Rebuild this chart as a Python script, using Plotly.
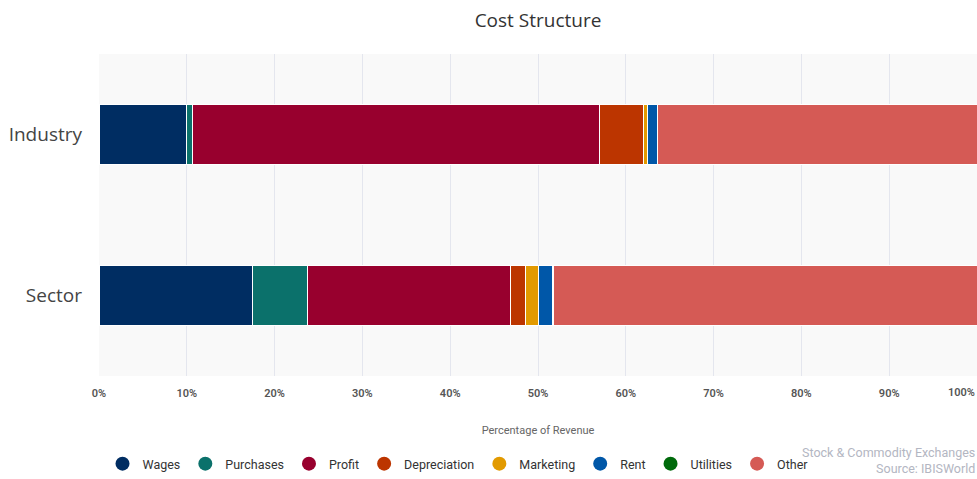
import plotly.graph_objects as go

categories = ["Industry", "Sector"]
series_names = ["Wages", "Purchases", "Profit", "Depreciation", "Marketing", "Rent", "Utilities", "Other"]
wages = [10.0, 17.5]
purchases = [0.7, 6.2]
profit = [46.3, 23.2]
depreciation = [5.0, 1.7]
marketing = [0.5, 1.5]
rent = [1.1, 1.6]
utilities = [0.05, 0.1]
other = [36.35, 48.2]
tick_vals = [0, 10, 20, 30, 40, 50, 60, 70, 80, 90, 100]
tick_text = ["0%", "10%", "20%", "30%", "40%", "50%", "60%", "70%", "80%", "90%", "100%"]

colors = ["#002D62", "#0B716B", "#98002E", "#BC3500", "#E29A00", "#0057A8", "#006A0B", "#D55A55"]
values = [wages, purchases, profit, depreciation, marketing, rent, utilities, other]

fig = go.Figure()
for name, vals, col in zip(series_names, values, colors):
    fig.add_trace(go.Bar(
        name=name, y=categories, x=vals, orientation="h", showlegend=False, legendgroup=name,
        marker=dict(color=col, line=dict(color="white", width=1)),
    ))
# circular legend entries
for name, col in zip(series_names, colors):
    fig.add_trace(go.Scatter(
        name=name, x=[None], y=[None], mode="markers", legendgroup=name, showlegend=True,
        marker=dict(color=col, size=14, symbol="circle"),
    ))

fig.update_layout(
    width=977, height=479,
    barmode="stack", bargap=0.63,
    margin=dict(l=99, r=0, t=54, b=102),
    paper_bgcolor="white", plot_bgcolor="#f9f9f9",
    title=dict(text="Cost Structure", x=0.5, xref="paper", xanchor="center", y=0.958, yanchor="middle",
               font=dict(family="Open Sans", size=19, color="#333333")),
    legend=dict(orientation="h", x=0.004, xanchor="left", y=-0.272, yanchor="middle",
                font=dict(family="Roboto", size=12.5, color="#333333"),
                traceorder="normal", bgcolor="rgba(0,0,0,0)"),
    font=dict(family="Roboto"),
)
fig.update_xaxes(
    range=[0, 100], tickvals=tick_vals[:-1], ticktext=tick_text[:-1],
    tickfont=dict(family="Roboto", size=11, color="#555555", weight=600),
    ticklabelstandoff=9,
    showgrid=True, gridcolor="#e4e6ee", gridwidth=1, zeroline=False, showline=False,
    title=dict(text="Percentage of Revenue", font=dict(family="Roboto", size=11, color="#666666"), standoff=27),
    fixedrange=True,
)
fig.update_yaxes(
    categoryorder="array", categoryarray=categories, autorange="reversed",
    tickfont=dict(family="Open Sans", size=19, color="#444444"),
    ticklabelstandoff=16, showgrid=False, zeroline=False, showline=False, fixedrange=True,
)
fig.add_annotation(text=tick_text[-1], xref="paper", yref="paper", x=1, y=-0.05, xanchor="right", yanchor="middle",
                   showarrow=False, font=dict(family="Roboto", size=11, color="#555555", weight=600))
fig.add_annotation(text="Stock & Commodity Exchanges<br>Source: IBISWorld", xref="paper", yref="paper",
                   x=1, y=-0.262, xanchor="right", yanchor="middle", align="right", showarrow=False,
                   font=dict(family="Roboto", size=12.5, color="#b3b6c2"))

fig.write_html("out.html", config={"displayModeBar": False},
               post_script="document.body.style.margin='0';document.body.style.overflow='hidden';")
